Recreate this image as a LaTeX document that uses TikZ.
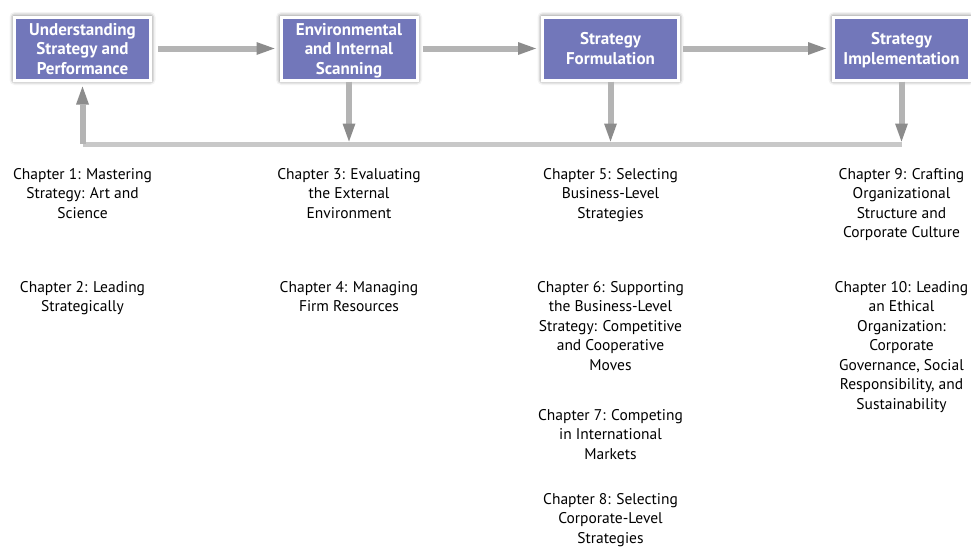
\documentclass[tikz,border=0pt]{standalone}
\usepackage{fontspec}
\setmainfont{PT Sans}
\usetikzlibrary{arrows.meta,shadows.blur}

\definecolor{boxpurple}{RGB}{114,119,186}
\definecolor{arrowgray}{RGB}{180,180,180}
\definecolor{tipgray}{RGB}{140,140,140}
\definecolor{loopgray}{RGB}{200,200,200}

\tikzset{
  stage/.style={fill=boxpurple, draw=white, line width=3pt, minimum width=136pt, minimum height=63pt,
    inner sep=0pt, align=center, text=white, font=\fontsize{17}{19.5}\selectfont\bfseries,
    text depth=0pt,
    blur shadow={shadow xshift=0pt, shadow yshift=0pt, shadow blur radius=5pt, shadow opacity=75}},
  chap/.style={anchor=north, inner sep=0pt, align=center, font=\fontsize{15.5}{19.5}\selectfont},
  flow/.style={draw=arrowgray, line width=6pt,
    -{Triangle[length=18pt,width=13pt,line width=0pt,color=tipgray]}},
  loopline/.style={draw=loopgray, line width=5pt}
}

\begin{document}
\begin{tikzpicture}[x=1pt,y=-1pt]
\useasboundingbox (0,0) rectangle (971,546);

% Stages
\node[stage] (under) at (82.5,48.5) {Understanding\\Strategy and\\Performance};
\node[stage] (scan) at (349,48.5) {Environmental\\and Internal\\Scanning};
\node[stage] (form) at (610.5,48.5) {Strategy\\Formulation};
\node[stage] (impl) at (901.5,48.5) {Strategy\\Implementation};

% Forward arrows
\draw[flow, shorten <=6pt, shorten >=5pt] (under) -- (scan);
\draw[flow, shorten <=4pt, shorten >=5pt] (scan) -- (form);
\draw[flow, shorten <=3pt, shorten >=6pt] (form) -- (impl);

% Feedback loop
\coordinate (fb) at (0,144);
\draw[loopline] (impl.south |- fb) -- (under.south |- fb);
\draw[flow, shorten >=5pt] (under.south |- fb) -- (under.south);
\draw[flow, shorten >=2.5pt] (scan.south) -- (scan.south |- fb);
\draw[flow, shorten >=2.5pt] (form.south) -- (form.south |- fb);
\draw[flow, shorten >=2.5pt] (impl.south) -- (impl.south |- fb);

% Chapters
\node[chap] (ch1) at (82.5,168) {Chapter 1: Mastering\\Strategy: Art and\\Science};
\node[chap] (ch2) at (82.5,281) {Chapter 2: Leading\\Strategically};
\node[chap] (ch3) at (349,168) {Chapter 3: Evaluating\\the External\\Environment};
\node[chap] (ch4) at (349,281) {Chapter 4: Managing\\Firm Resources};
\node[chap] (ch5) at (610.5,168) {Chapter 5: Selecting\\Business-Level\\Strategies};
\node[chap] (ch6) at (610.5,281) {Chapter 6: Supporting\\the Business-Level\\Strategy: Competitive\\and Cooperative\\Moves};
\node[chap] (ch7) at (610.5,409) {Chapter 7: Competing\\in International\\Markets};
\node[chap] (ch8) at (610.5,493) {Chapter 8: Selecting\\Corporate-Level\\Strategies};
\node[chap] (ch9) at (901.5,168) {Chapter 9: Crafting\\Organizational\\Structure and\\Corporate Culture};
\node[chap] (ch10) at (901.5,281) {Chapter 10: Leading\\an Ethical\\Organization:\\Corporate\\Governance, Social\\Responsibility, and\\Sustainability};

\end{tikzpicture}
\end{document}
